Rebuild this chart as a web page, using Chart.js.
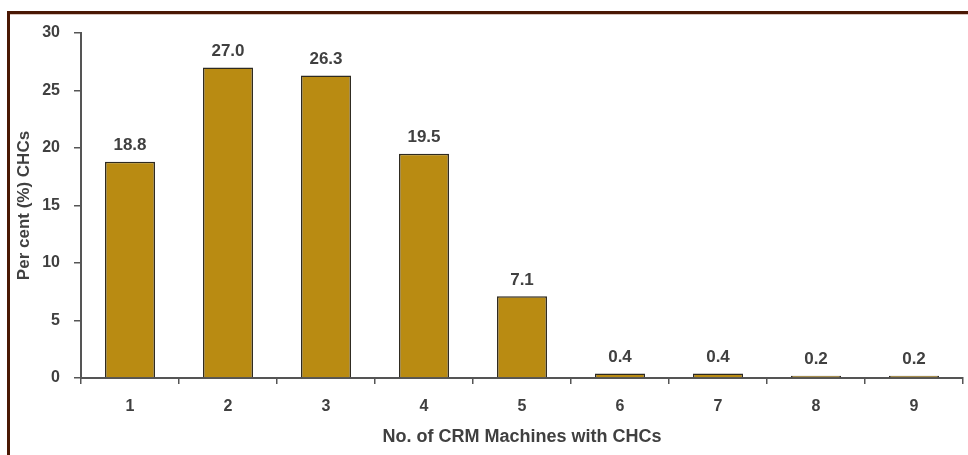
<!DOCTYPE html>
<html>
<head>
<meta charset="utf-8">
<script src="https://cdn.jsdelivr.net/npm/chart.js@4.4.1/dist/chart.umd.min.js"></script>
<style>
  html, body { margin: 0; padding: 0; background: #ffffff; }
  #wrap { position: relative; width: 968px; height: 455px; }
  canvas { display: block; }
</style>
</head>
<body>
<div id="wrap"><canvas id="chart" width="968" height="455"></canvas></div>
<script>
// Number of CRM machines per CHC and the share of CHCs for each count
const categories = ['1', '2', '3', '4', '5', '6', '7', '8', '9'];
const percentCHCs = [18.8, 27.0, 26.3, 19.5, 7.1, 0.4, 0.4, 0.2, 0.2];
const yTicks = [0, 5, 10, 15, 20, 25, 30];

const textColor = '#404040';
const axisColor = '#555555';
const fontFamily = '"Liberation Sans", Arial, sans-serif';

// Dark frame line along the top and left edges
const framePlugin = {
  id: 'frame',
  beforeDraw(chart) {
    const ctx = chart.ctx;
    ctx.save();
    ctx.fillStyle = '#4a1804';
    ctx.fillRect(7, 11, chart.width - 7, 3);
    ctx.fillRect(7, 11, 3, chart.height - 11);
    ctx.fillStyle = '#d8c4bc';
    ctx.fillRect(10, 14, chart.width - 10, 1);
    ctx.restore();
  }
};

// Value printed above each bar
const valueLabels = {
  id: 'valueLabels',
  afterDatasetsDraw(chart) {
    const ctx = chart.ctx;
    const meta = chart.getDatasetMeta(0);
    const data = chart.data.datasets[0].data;
    ctx.save();
    ctx.font = 'bold 17px ' + fontFamily;
    ctx.fillStyle = textColor;
    ctx.textAlign = 'center';
    ctx.textBaseline = 'bottom';
    meta.data.forEach((bar, i) => {
      ctx.fillText(data[i].toFixed(1), bar.x, bar.y - 8);
    });
    ctx.restore();
  }
};

new Chart(document.getElementById('chart'), {
  type: 'bar',
  data: {
    labels: categories,
    datasets: [{
      data: percentCHCs,
      backgroundColor: '#b98b12',
      borderColor: '#2e2a20',
      borderWidth: 1.5,
      categoryPercentage: 1.0,
      barPercentage: 0.51
    }]
  },
  options: {
    responsive: false,
    animation: false,
    devicePixelRatio: 1,
    layout: { padding: { top: 33, right: 5, left: 0, bottom: 0 } },
    plugins: {
      legend: { display: false },
      tooltip: { enabled: false }
    },
    scales: {
      x: {
        grid: {
          display: true,
          offset: true,
          drawOnChartArea: false,
          drawTicks: true,
          tickLength: 6,
          color: axisColor,
          lineWidth: 1.5
        },
        border: { display: true, color: axisColor, width: 2 },
        ticks: {
          color: textColor,
          font: { family: fontFamily, size: 16, weight: 'bold' },
          padding: 13,
          maxRotation: 0
        },
        title: {
          display: true,
          text: 'No. of CRM Machines with CHCs',
          color: textColor,
          font: { family: fontFamily, size: 18, weight: 'bold' },
          padding: { top: 0, bottom: 7 }
        },
        afterFit(scale) { scale.height = 77; }
      },
      y: {
        min: 0,
        max: 30,
        afterBuildTicks(scale) {
          scale.ticks = yTicks.map(v => ({ value: v }));
        },
        grid: {
          display: true,
          drawOnChartArea: false,
          drawTicks: true,
          tickLength: 7,
          color: axisColor,
          lineWidth: 1.5
        },
        border: { display: true, color: axisColor, width: 2 },
        ticks: {
          color: textColor,
          font: { family: fontFamily, size: 16, weight: 'bold' },
          padding: 14
        },
        title: {
          display: true,
          text: 'Per cent (%) CHCs',
          color: textColor,
          font: { family: fontFamily, size: 17, weight: 'bold' },
          padding: { top: 14, bottom: 0 }
        },
        afterFit(scale) { scale.width = 81; }
      }
    }
  },
  plugins: [framePlugin, valueLabels]
});
</script>
</body>
</html>
